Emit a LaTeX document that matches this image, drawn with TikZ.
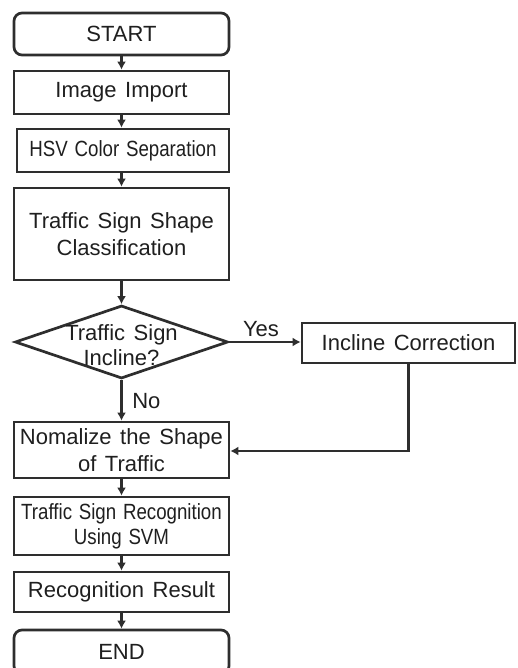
\documentclass[tikz,border=0pt]{standalone}
\usepackage{fontspec}
\setmainfont[WordSpace=1.4]{Liberation Sans}
\newfontfamily\condfont[FakeStretch=0.85,WordSpace=1.3]{Liberation Sans}
\usetikzlibrary{arrows.meta,shapes.geometric}
\begin{document}
\begin{tikzpicture}[x=1pt,y=-1pt,
  line width=2.7pt, draw=black!82,
  every node/.style={font=\fontsize{22}{27}\selectfont, text=black!88},
  box/.style={draw, line width=2.7pt, minimum width=215pt, inner sep=0pt, align=center},
  term/.style={box, rounded corners=8pt},
  arr/.style={-{Latex[length=8pt,width=9pt]}, line width=2.7pt, draw=black!82},
  lbl/.style={inner sep=0pt}]
\useasboundingbox (0,0) rectangle (517,668);
\clip (0,0) rectangle (517,668);
\fill[white] (0,0) rectangle (517,668);
\node[term, minimum height=42pt] (start) at (121.5,34) {START};
\node[box, minimum height=43pt] (imp) at (121.5,92.5) {Image Import};
\node[box, minimum width=212pt, minimum height=43pt, font=\condfont\fontsize{22}{27}\selectfont] (hsv) at (123,150.5) {HSV Color Separation};
\node[box, minimum height=92pt] (cls) at (121.5,234) {Traffic Sign Shape\\Classification};
\node[diamond, draw, line width=2.7pt, minimum width=213pt, minimum height=73pt, inner sep=0pt] (dec) at (121.5,342) {};
\node[lbl, align=center, font=\fontsize{22}{25}\selectfont] (dect) at (121.5,345) {Traffic Sign\\Incline?};
\node[box, minimum width=213pt, minimum height=40pt] (inc) at (408.5,343) {Incline Correction};
\node[box, minimum height=56pt] (norm) at (121.5,450) {Nomalize the Shape\\of Traffic};
\node[box, minimum height=58pt, font=\condfont\fontsize{22}{25}\selectfont] (svm) at (121.5,526) {Traffic Sign Recognition\\Using SVM};
\node[box, minimum height=40pt] (res) at (121.5,592) {Recognition Result};
\node[term, minimum height=44pt] (end) at (121.5,652) {END};
\node[lbl] (yes) at (261,329) {Yes};
\node[lbl, anchor=west] (no) at (131,401) {No};
\draw[arr] (start) -- (imp);
\draw[arr] (imp) -- (imp.south |- hsv.north);
\draw[arr] (imp.south |- hsv.south) -- (imp.south |- cls.north);
\draw[arr] (cls) -- (dec);
\draw[arr] (dec.east) -- (dec.east -| inc.west);
\draw[arr] (dec) -- (norm);
\draw[arr] (inc.south) |- ([yshift=-1pt]norm.east);
\draw[arr] (norm) -- (svm);
\draw[arr] (svm) -- (res);
\draw[arr] (res) -- (end);
\end{tikzpicture}
\end{document}
